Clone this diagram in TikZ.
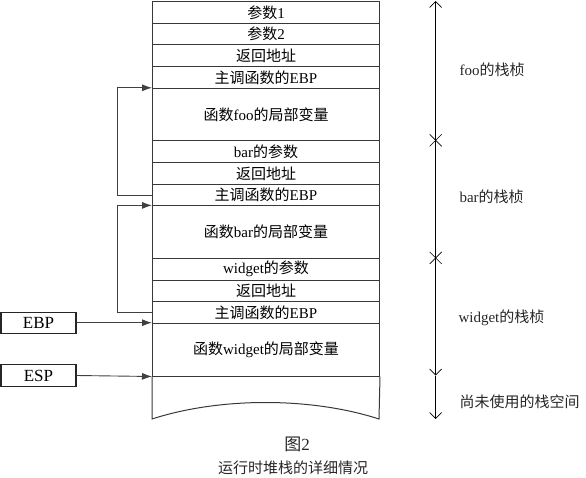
\documentclass[tikz,border=0pt]{standalone}
\usepackage{fontspec}
\setmainfont{Liberation Serif}
\newfontfamily\cjk{Noto Sans CJK SC}
\newcommand\zh[1]{{\cjk #1}}
\usetikzlibrary{arrows.meta}
\tikzset{vtip/.tip={Straight Barb[length=6pt,width=12pt,line width=0.7pt]}}
\begin{document}
\begin{tikzpicture}[x=1pt,y=-1pt,
  line width=1pt,
  row/.style={draw=black!78, minimum width=227pt, inner sep=0pt, anchor=north west, font=\fontsize{15}{17}\selectfont},
  small/.style={row, minimum height=21.7pt},
  big/.style={row, minimum height=52.5pt},
  regbox/.style={draw=black!85, line width=1.2pt, minimum width=75pt, inner sep=0pt, font=\fontsize{17}{19}\selectfont},
  fb/.style={draw=black!75, line width=0.9pt, -{Latex[length=10pt,width=7pt]}},
  axis/.style={draw=black, line width=0.8pt},
  lab/.style={anchor=west, inner sep=0pt, font=\fontsize{15}{17}\selectfont, text=black!85},
  captext/.style={inner sep=0pt, text=black!85}]
\useasboundingbox (0,0) rectangle (586,478);

\node[small] (r1) at (152,1) {\zh{参数}1};
\node[small] (r2) at (152,22.7) {\zh{参数}2};
\node[small] (r3) at (152,44.4) {\zh{返回地址}};
\node[small] (r4) at (152,66.1) {\zh{主调函数的}EBP};
\node[big] (r5) at (152,87.8) {\zh{函数}foo\zh{的局部变量}};
\node[small] (r6) at (152,140.3) {bar\zh{的参数}};
\node[small] (r7) at (152,162) {\zh{返回地址}};
\node[small] (r8) at (152,183.7) {\zh{主调函数的}EBP};
\node[big] (r9) at (152,205.4) {\zh{函数}bar\zh{的局部变量}};
\node[small] (r10) at (152,257.9) {widget\zh{的参数}};
\node[small] (r11) at (152,279.6) {\zh{返回地址}};
\node[small] (r12) at (152,301.3) {\zh{主调函数的}EBP};
\node[big] (r13) at (152,323) {\zh{函数}widget\zh{的局部变量}};

\coordinate (bl) at (152,419);
\coordinate (br) at (379,419);
\draw[black!78] (r13.south west) -- (bl) .. controls (220,397) and (311,397) .. (br) -- (r13.south east);

\draw[fb] (r8.west) -- ++(-35,0) |- (r5.north west);
\draw[fb] (r12.west) -- ++(-35,0) |- (r9.north west);

\node[regbox, minimum height=21pt] (ebp) at (38.5,322.7) {EBP};
\node[regbox, minimum height=22pt] (esp) at (38.5,375.5) {ESP};
\draw[fb] (ebp.east) -- (ebp.east -| r13.west);
\draw[fb] (esp.east) -- (r13.south west);

\coordinate (a0) at (435.7,1);
\coordinate (a1) at (435.7,375.5);
\coordinate (a2) at (435.7,419);
\coordinate (x1) at (435.7,140.3);
\coordinate (x2) at (435.7,257.9);
\draw[axis, vtip-vtip] (a0) -- (a1);
\draw[axis, -vtip] (a1) -- (a2);
\draw[axis, line width=0.6pt] ([shift={(-6,-6)}]x1) -- ([shift={(6,6)}]x1) ([shift={(-6,6)}]x1) -- ([shift={(6,-6)}]x1);
\draw[axis, line width=0.6pt] ([shift={(-6,-6)}]x2) -- ([shift={(6,6)}]x2) ([shift={(-6,6)}]x2) -- ([shift={(6,-6)}]x2);

\node[lab] (l1) at (459,70) {foo\zh{的栈桢}};
\node[lab] (l2) at (459,197) {bar\zh{的栈桢}};
\node[lab] (l3) at (458,318) {widget\zh{的栈桢}};
\node[lab] (l4) at (459,402) {\zh{尚未使用的栈空间}};

\node[captext, font=\fontsize{17}{19}\selectfont] (c1) at (297,444) {\zh{图}2};
\node[captext, font=\fontsize{15}{17}\selectfont] (c2) at (293,468) {\zh{运行时堆栈的详细情况}};
\end{tikzpicture}
\end{document}
